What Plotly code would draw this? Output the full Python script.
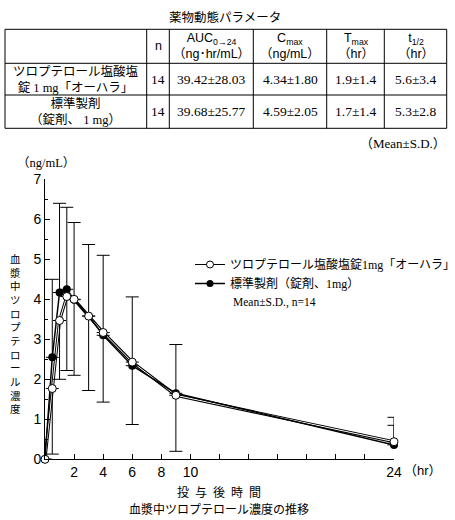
import plotly.graph_objects as go

W, H = 455, 520

# time course data
time_hr = [0, 0.5, 1, 1.5, 2, 3, 4, 6, 9, 24]
test_mean = [0, 1.77, 3.47, 4.07, 4.00, 3.58, 3.17, 2.43, 1.60, 0.44]
test_sd_lower = [None, 1.64, 1.47, 1.85, 1.90, 1.86, 1.74, 1.56, 1.40, None]
test_sd_upper = [None, None, None, None, None, None, None, None, None, 0.41]
ref_mean = [0, 2.55, 4.17, 4.25, 3.99, 3.58, 3.10, 2.34, 1.65, 0.36]
ref_sd_upper = [None, 1.95, 2.23, 2.05, 1.93, 1.79, 2.00, 1.72, 1.22, 0.69]

test_name = "ツロプテロール塩酸塩錠1mg「オーハラ」"
ref_name = "標準製剤（錠剤、1mg）"

# PK parameter table
tbl_header = ["", "n", "AUC<sub>0→24</sub><br>（ng･hr/mL）", "C<sub>max</sub><br>（ng/mL）",
              "T<sub>max</sub><br>（hr）", "t<sub>1/2</sub><br>（hr）"]
tbl_product = ["ツロプテロール塩酸塩<br>錠 1 mg「オーハラ」", "標準製剤<br>（錠剤、 1 mg）"]
tbl_n = ["14", "14"]
tbl_auc = ["39.42±28.03", "39.68±25.77"]
tbl_cmax = ["4.34±1.80", "4.59±2.05"]
tbl_tmax = ["1.9±1.4", "1.7±1.4"]
tbl_thalf = ["5.6±3.4", "5.3±2.8"]

x_ticks = list(range(0, 26, 2))
x_ticklabels = ["", "2", "4", "6", "8", "10", "", "", "", "", "", "", "24"]

JP = "Noto Sans CJK JP"
SERIF = "Liberation Serif, Noto Sans CJK JP"
SANS = "Liberation Sans, Noto Sans CJK JP"

# table grid (pixels)
col_edges = [5, 146.7, 169.3, 253.3, 326.7, 384.3, 446.7]
row_edges = [29.3, 63.3, 95, 128.3]


def px(x):
    return x / W


def py(y):
    return 1 - y / H


fig = go.Figure()

# test line drawn as hollow (double) line
fig.add_trace(go.Scatter(x=time_hr, y=test_mean, mode="lines", line=dict(color="black", width=3),
                         showlegend=False, hoverinfo="skip", cliponaxis=False))
fig.add_trace(go.Scatter(x=time_hr, y=test_mean, mode="lines", line=dict(color="white", width=1),
                         showlegend=False, hoverinfo="skip", cliponaxis=False))
fig.add_trace(go.Scatter(
    x=time_hr, y=ref_mean, mode="lines+markers", showlegend=False, cliponaxis=False,
    line=dict(color="black", width=1.5),
    marker=dict(symbol="circle", size=8, color="black"),
    error_y=dict(type="data", symmetric=False, array=ref_sd_upper,
                 arrayminus=[None] * len(time_hr), color="black", thickness=1, width=6.5),
))
fig.add_trace(go.Scatter(
    x=time_hr, y=test_mean, mode="markers", showlegend=False, cliponaxis=False,
    marker=dict(symbol="circle", size=8, color="white", line=dict(color="black", width=1)),
    error_y=dict(type="data", symmetric=False, array=test_sd_upper,
                 arrayminus=test_sd_lower, color="black", thickness=1, width=6.5),
))
# legend entries
fig.add_trace(go.Scatter(x=[None], y=[None], mode="lines+markers", name=test_name,
                         line=dict(color="black", width=1),
                         marker=dict(size=7, color="white", line=dict(color="black", width=1))))
fig.add_trace(go.Scatter(x=[None], y=[None], mode="lines+markers", name=ref_name,
                         line=dict(color="black", width=1.5),
                         marker=dict(size=7, color="black")))

fig.update_layout(
    width=W, height=H,
    margin=dict(l=0, r=0, t=0, b=0, autoexpand=False),
    paper_bgcolor="white", plot_bgcolor="white",
    font=dict(family=SANS, color="black"),
    showlegend=True,
    legend=dict(x=px(461), y=py(250), xanchor="right", yanchor="top",
                bgcolor="rgba(0,0,0,0)", font=dict(family=SERIF, size=12),
                itemwidth=30, tracegroupgap=0, borderwidth=0),
    xaxis=dict(domain=[px(45), px(394)], range=[0, 24], tickvals=x_ticks, ticktext=x_ticklabels,
               ticks="inside", ticklen=5, tickcolor="black", showline=True, linecolor="black",
               linewidth=1, showgrid=False, zeroline=False, automargin=False,
               tickfont=dict(size=14, family=SANS)),
    yaxis=dict(domain=[py(459.3), py(179.3)], range=[0, 7], dtick=1, ticks="inside", ticklen=5,
               tickcolor="black", showline=True, linecolor="black", linewidth=1, showgrid=False,
               zeroline=False, automargin=False, tickfont=dict(size=14, family=SANS),
               minor=dict(dtick=0.5, ticks="inside", ticklen=3, tickcolor="black")),
)

# table grid lines
for xe in col_edges:
    fig.add_shape(type="line", xref="paper", yref="paper", x0=px(xe), x1=px(xe),
                  y0=py(row_edges[0]), y1=py(row_edges[-1]), line=dict(color="black", width=1))
for ye in row_edges:
    fig.add_shape(type="line", xref="paper", yref="paper", x0=px(col_edges[0]), x1=px(col_edges[-1]),
                  y0=py(ye), y1=py(ye), line=dict(color="black", width=1))

# table texts
columns = [tbl_product, tbl_n, tbl_auc, tbl_cmax, tbl_tmax, tbl_thalf]
for ci, head in enumerate(tbl_header):
    cx = (col_edges[ci] + col_edges[ci + 1]) / 2
    if head:
        fig.add_annotation(x=px(cx), y=py((row_edges[0] + row_edges[1]) / 2), text=head,
                           font=dict(family=SANS, size=12.5))
    for ri, val in enumerate(columns[ci]):
        cy = (row_edges[ri + 1] + row_edges[ri + 2]) / 2
        fig.add_annotation(x=px(cx), y=py(cy), text=val,
                           font=dict(family=SERIF, size=13.5 if ci else 12.5))

fig.add_annotation(text="薬物動態パラメータ", x=px(225), y=py(16), font=dict(family=JP, size=12.5))
fig.add_annotation(text="（Mean±S.D.）", x=px(448), y=py(143), xanchor="right",
                   font=dict(family=SERIF, size=13))
fig.add_annotation(text="（ng/mL）", x=px(15), y=py(163), xanchor="left", font=dict(family=SERIF, size=12.5))
fig.add_annotation(text="<br>".join("血漿中ツロプテロール濃度"), x=px(15), y=py(333),
                   font=dict(family=JP, size=10.5))
fig.add_annotation(text="Mean±S.D., n=14", x=px(231), y=py(302), xanchor="left",
                   font=dict(family=SERIF, size=11.5))
fig.add_annotation(text="（hr）", x=px(402), y=py(470), xanchor="left", font=dict(family=SANS, size=13))
fig.add_annotation(text="\u2002".join("投与後時間"), x=px(219), y=py(491), font=dict(family=JP, size=12))
fig.add_annotation(text="血漿中ツロプテロール濃度の推移", x=px(219), y=py(508), font=dict(family=JP, size=12))

fig.update_annotations(xref="paper", yref="paper", showarrow=False, yanchor="middle", font_color="black")
for a in fig.layout.annotations:
    if a.xanchor is None:
        a.xanchor = "center"

fig.write_html("out.html", config={"displayModeBar": False},
               post_script="document.body.style.margin = '0';")
